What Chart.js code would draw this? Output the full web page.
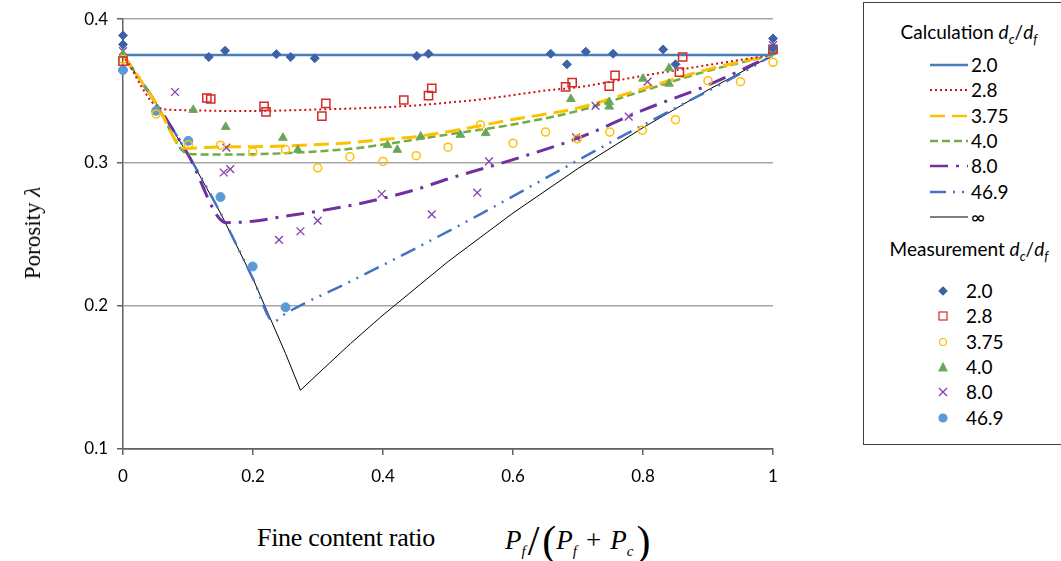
<!DOCTYPE html>
<html>
<head>
<meta charset="utf-8">
<script src="https://cdn.jsdelivr.net/npm/chart.js@4/dist/chart.umd.min.js"></script>
<style>
body{margin:0;background:#fff;}
#wrap{position:relative;width:1061px;height:561px;overflow:hidden;font-family:Lato,"Open Sans",sans-serif;color:#000;}
#c{position:absolute;left:0;top:0;}
#ytitle{position:absolute;left:33px;top:233px;transform:translate(-50%,-50%) rotate(-90deg);font-family:"Liberation Serif",serif;font-size:23px;white-space:nowrap;}
#xtitle{position:absolute;left:257px;top:523px;font-family:"Liberation Serif",serif;font-size:26px;letter-spacing:-0.3px;white-space:nowrap;}
#xmath{position:absolute;left:505px;top:517px;font-family:"Liberation Serif",serif;font-size:27px;white-space:nowrap;}
#xmath sub{font-size:15px;vertical-align:-7px;}
#xmath .big{font-size:42px;font-style:normal;vertical-align:-6px;font-weight:lighter;}
#xmath .sl{margin:0 3px 0 2px;}
#xmath .op{margin:0 9px;}
#xmath .rp{margin-left:3px;}
#legend{position:absolute;left:863px;top:2px;width:210px;height:441px;border:1.5px solid #404040;}
#legend .ttl{position:absolute;left:0;width:210px;text-align:center;font-size:19px;white-space:nowrap;}
#legend .ttl sub{font-size:13px;}
#legend .lbl{position:absolute;font-size:19px;line-height:22px;}
#legend svg{position:absolute;}
</style>
</head>
<body>
<div id="wrap">
  <canvas id="c" width="860" height="500"></canvas>
  <div id="ytitle">Porosity <i>λ</i></div>
  <div id="xtitle">Fine content ratio</div>
  <div id="xmath"><i>P</i><sub><i>f</i></sub><span class="big sl">/</span><span class="big">(</span><i>P</i><sub><i>f</i></sub><span class="op">+</span><i>P</i><sub><i>c</i></sub><span class="big rp">)</span></div>
  <div id="legend"></div>
</div>
<script>
// calculation curves
var calc20x = [0, 1];
var calc20y = [0.375, 0.375];
var calc28x = [0, 0.059, 0.1, 0.15, 0.2, 0.25, 0.3, 0.35, 0.4, 0.45, 0.5, 0.55, 0.6, 0.65, 0.7, 0.8, 0.9, 1];
var calc28y = [0.375, 0.3375, 0.3365, 0.336, 0.336, 0.3363, 0.337, 0.3376, 0.3385, 0.3398, 0.3418, 0.344, 0.347, 0.3502, 0.3525, 0.3605, 0.368, 0.3752];
var calc375x = [0, 0.05, 0.095, 0.15, 0.2, 0.25, 0.3, 0.35, 0.4, 0.45, 0.5, 0.6, 0.7, 0.8, 0.9, 1];
var calc375y = [0.375, 0.342, 0.31, 0.3108, 0.311, 0.3115, 0.3125, 0.3138, 0.316, 0.318, 0.3215, 0.33, 0.338, 0.3515, 0.365, 0.375];
var calc40x = [0, 0.05, 0.1, 0.15, 0.2, 0.25, 0.3, 0.35, 0.4, 0.45, 0.5, 0.6, 0.7, 0.8, 0.9, 1];
var calc40y = [0.375, 0.342, 0.306, 0.3055, 0.3057, 0.3065, 0.3078, 0.3095, 0.3125, 0.316, 0.3195, 0.3265, 0.336, 0.35, 0.364, 0.375];
var calc80x = [0, 0.05, 0.1, 0.159, 0.2, 0.25, 0.3, 0.35, 0.4, 0.45, 0.5, 0.6, 0.7, 0.8, 0.9, 1];
var calc80y = [0.375, 0.342, 0.3056, 0.258, 0.259, 0.2625, 0.266, 0.27, 0.275, 0.281, 0.2885, 0.302, 0.317, 0.3365, 0.354, 0.375];
var calc469x = [0, 0.05, 0.1, 0.15, 0.2, 0.232, 0.25, 0.35, 0.45, 0.55, 0.65, 0.75, 0.85, 0.95, 1];
var calc469y = [0.375, 0.342, 0.3056, 0.2647, 0.2188, 0.189, 0.1945, 0.217, 0.24, 0.264, 0.289, 0.314, 0.338, 0.362, 0.375];
var calcInfx = [0, 0.05, 0.1, 0.15, 0.2, 0.25, 0.273, 0.3, 0.35, 0.4, 0.5, 0.6, 0.7, 0.8, 0.9, 1];
var calcInfy = [0.375, 0.342, 0.3056, 0.2647, 0.2188, 0.1667, 0.141, 0.1525, 0.1736, 0.1935, 0.2308, 0.2647, 0.2958, 0.3243, 0.3506, 0.375];

// measurements
var meas20x = [0, 0, 0.132, 0.157, 0.236, 0.258, 0.295, 0.452, 0.47, 0.658, 0.683, 0.712, 0.754, 0.831, 0.85, 1, 1];
var meas20y = [0.3887, 0.3824, 0.3736, 0.378, 0.3756, 0.3736, 0.3727, 0.3743, 0.3759, 0.3759, 0.3685, 0.3773, 0.3759, 0.3789, 0.3685, 0.3866, 0.38];
var meas28x = [0, 0.129, 0.135, 0.217, 0.22, 0.306, 0.312, 0.432, 0.47, 0.475, 0.681, 0.691, 0.748, 0.757, 0.856, 0.861, 1];
var meas28y = [0.3708, 0.345, 0.3443, 0.3392, 0.3353, 0.3323, 0.3413, 0.3436, 0.3466, 0.3518, 0.3527, 0.3557, 0.3532, 0.3608, 0.3631, 0.3736, 0.3789];
var meas375x = [0, 0.051, 0.1005, 0.15, 0.1995, 0.25, 0.2995, 0.349, 0.4, 0.451, 0.5, 0.55, 0.6, 0.65, 0.699, 0.749, 0.799, 0.85, 0.9, 0.95, 1];
var meas375y = [0.372, 0.3339, 0.3123, 0.3121, 0.3074, 0.309, 0.2963, 0.304, 0.3007, 0.3047, 0.3107, 0.3262, 0.3135, 0.3212, 0.3165, 0.3212, 0.3225, 0.3299, 0.3571, 0.3564, 0.3699];
var meas40x = [0, 0.108, 0.158, 0.246, 0.269, 0.407, 0.422, 0.458, 0.519, 0.558, 0.689, 0.748, 0.748, 0.8, 0.84, 0.84, 1];
var meas40y = [0.3754, 0.3367, 0.3248, 0.3172, 0.3088, 0.3121, 0.3088, 0.3181, 0.3193, 0.3205, 0.3443, 0.3422, 0.339, 0.3585, 0.3657, 0.355, 0.3777];
var meas80x = [0, 0.08, 0.159, 0.155, 0.165, 0.24, 0.273, 0.2995, 0.398, 0.475, 0.545, 0.563, 0.697, 0.727, 0.778, 0.807, 1];
var meas80y = [0.3777, 0.3492, 0.3104, 0.293, 0.2954, 0.246, 0.252, 0.2594, 0.278, 0.2638, 0.2789, 0.3007, 0.3175, 0.3395, 0.332, 0.3564, 0.3819];
var meas469x = [0, 0.051, 0.1005, 0.15, 0.1995, 0.25, 1];
var meas469y = [0.3645, 0.336, 0.3151, 0.2759, 0.2274, 0.1989, 0.378];

var yTicks = [0.1, 0.2, 0.3, 0.4];
var xTicks = [0, 0.2, 0.4, 0.6, 0.8, 1];

function pts(xs, ys) {
  return xs.map(function(x, i) { return {x: x, y: ys[i]}; });
}

// measurement sets first so they are painted on top of the curves
var measSets = [
  {label: '2.0', data: pts(meas20x, meas20y), pointStyle: 'rectRot', pointRadius: 4.5, backgroundColor: '#3e62a8', borderColor: '#3e62a8', borderWidth: 1},
  {label: '2.8', data: pts(meas28x, meas28y), pointStyle: 'rect', pointRadius: 5.8, backgroundColor: 'rgba(255,255,255,0)', borderColor: '#d42a2a', borderWidth: 1.5},
  {label: '3.75', data: pts(meas375x, meas375y), pointStyle: 'circle', pointRadius: 4, backgroundColor: 'rgba(255,255,255,0)', borderColor: '#ffc000', borderWidth: 1.5},
  {label: '4.0', data: pts(meas40x, meas40y), pointStyle: 'triangle', pointRadius: 5, backgroundColor: '#64a46c', borderColor: '#70ad47', borderWidth: 1},
  {label: '8.0', data: pts(meas80x, meas80y), pointStyle: 'crossRot', pointRadius: 5.5, backgroundColor: '#8040b0', borderColor: '#8040b0', borderWidth: 1.3},
  {label: '46.9', data: pts(meas469x, meas469y), pointStyle: 'circle', pointRadius: 4.5, backgroundColor: '#5b9bd5', borderColor: '#5b9bd5', borderWidth: 1}
];
measSets.forEach(function(d) { d.showLine = false; d.clip = false; d.pointHoverRadius = d.pointRadius; });

var calcSets = [
  {label: '2.0', data: pts(calc20x, calc20y), borderColor: '#4a7ebb', borderWidth: 2.5, borderDash: []},
  {label: '2.8', data: pts(calc28x, calc28y), borderColor: '#d01010', borderWidth: 2, borderDash: [2, 3]},
  {label: '3.75', data: pts(calc375x, calc375y), borderColor: '#ffc000', borderWidth: 3, borderDash: [15, 7]},
  {label: '4.0', data: pts(calc40x, calc40y), borderColor: '#70ad47', borderWidth: 2.5, borderDash: [8, 4]},
  {label: '8.0', data: pts(calc80x, calc80y), borderColor: '#7030a0', borderWidth: 3, borderDash: [18, 8, 3, 8]},
  {label: '46.9', data: pts(calc469x, calc469y), borderColor: '#4472c4', borderWidth: 2.5, borderDash: [16, 7, 2, 7, 2, 7]},
  {label: '∞', data: pts(calcInfx, calcInfy), borderColor: '#000000', borderWidth: 1, borderDash: []}
];
calcSets.forEach(function(d, i) {
  d.showLine = true;
  d.pointRadius = 0;
  d.pointHoverRadius = 0;
  d.fill = false;
  d.cubicInterpolationMode = (i === 6 || i === 0) ? 'default' : 'monotone';
  d.tension = 0;
});

var ctx = document.getElementById('c').getContext('2d');
var chart = new Chart(ctx, {
  type: 'scatter',
  data: {datasets: measSets.concat(calcSets)},
  options: {
    responsive: false,
    animation: false,
    events: [],
    layout: {padding: {left: 0, top: 18, right: 87, bottom: 11}},
    plugins: {legend: {display: false}, tooltip: {enabled: false}},
    scales: {
      x: {
        type: 'linear', min: 0, max: 1,
        afterFit: function(s) { s.height = 40; },
        afterBuildTicks: function(s) { s.ticks = xTicks.map(function(v) { return {value: v}; }); },
        grid: {drawOnChartArea: false, tickLength: 6, tickColor: '#606060', lineWidth: 1.5},
        border: {color: '#606060', width: 1.5},
        ticks: {padding: 11, color: '#000', font: {family: 'Lato', size: 17},
          callback: function(v) { return String(v); }}
      },
      y: {
        type: 'linear', min: 0.1, max: 0.4,
        afterFit: function(s) { s.width = 123; },
        afterBuildTicks: function(s) { s.ticks = yTicks.map(function(v) { return {value: v}; }); },
        grid: {
          tickLength: 6, tickColor: '#606060', lineWidth: 1.5,
          color: function(c) { return c.tick && c.tick.value === 0.1 ? '#606060' : '#a6a6a6'; }
        },
        border: {color: '#606060', width: 1.5},
        ticks: {padding: 9, color: '#000', font: {family: 'Lato', size: 17},
          callback: function(v) { return v.toFixed(1); }}
      }
    }
  }
});

// legend box built from the datasets
var leg = document.getElementById('legend');
var svgNS = 'http://www.w3.org/2000/svg';
function addTitle(html, top) {
  var t = document.createElement('div');
  t.className = 'ttl';
  t.style.top = top + 'px';
  t.innerHTML = html;
  leg.appendChild(t);
}
function addLabel(text, left, top) {
  var l = document.createElement('div');
  l.className = 'lbl';
  l.style.left = left + 'px';
  l.style.top = top + 'px';
  l.textContent = text;
  leg.appendChild(l);
}
addTitle('Calculation <i>d<sub>c</sub></i>/<i>d<sub>f</sub></i>', 17);
calcSets.forEach(function(d, i) {
  var cy = 62 + i * 25.3;
  var s = document.createElementNS(svgNS, 'svg');
  s.setAttribute('width', 40); s.setAttribute('height', 10);
  s.style.left = '66px'; s.style.top = (cy - 5) + 'px';
  var ln = document.createElementNS(svgNS, 'line');
  ln.setAttribute('x1', 0); ln.setAttribute('x2', 38); ln.setAttribute('y1', 5); ln.setAttribute('y2', 5);
  ln.setAttribute('stroke', d.borderColor);
  ln.setAttribute('stroke-width', Math.min(d.borderWidth, 2.5));
  if (d.borderDash.length) ln.setAttribute('stroke-dasharray', d.borderDash.join(' '));
  s.appendChild(ln);
  leg.appendChild(s);
  addLabel(d.label, 107, cy - 11);
});
addTitle('Measurement <i>d<sub>c</sub></i>/<i>d<sub>f</sub></i>', 234);
measSets.forEach(function(d, i) {
  var cy = 288 + i * 25.3;
  var s = document.createElementNS(svgNS, 'svg');
  s.setAttribute('width', 14); s.setAttribute('height', 14);
  s.style.left = '72px'; s.style.top = (cy - 7) + 'px';
  var sh;
  if (d.pointStyle === 'rectRot') {
    sh = document.createElementNS(svgNS, 'polygon');
    sh.setAttribute('points', '7,3 11,7 7,11 3,7');
  } else if (d.pointStyle === 'rect') {
    sh = document.createElementNS(svgNS, 'rect');
    sh.setAttribute('x', 3); sh.setAttribute('y', 3); sh.setAttribute('width', 8); sh.setAttribute('height', 8);
  } else if (d.pointStyle === 'triangle') {
    sh = document.createElementNS(svgNS, 'polygon');
    sh.setAttribute('points', '7,3 11,11 3,11');
  } else if (d.pointStyle === 'crossRot') {
    sh = document.createElementNS(svgNS, 'path');
    sh.setAttribute('d', 'M3,3 L11,11 M11,3 L3,11');
  } else {
    sh = document.createElementNS(svgNS, 'circle');
    sh.setAttribute('cx', 7); sh.setAttribute('cy', 7); sh.setAttribute('r', d.backgroundColor.indexOf('rgba') === 0 ? 3.5 : 4);
  }
  sh.setAttribute('fill', d.backgroundColor);
  sh.setAttribute('stroke', d.borderColor);
  sh.setAttribute('stroke-width', d.pointStyle === 'crossRot' ? 1.3 : 1.2);
  s.appendChild(sh);
  leg.appendChild(s);
  addLabel(d.label, 102, cy - 11);
});
</script>
</body>
</html>
